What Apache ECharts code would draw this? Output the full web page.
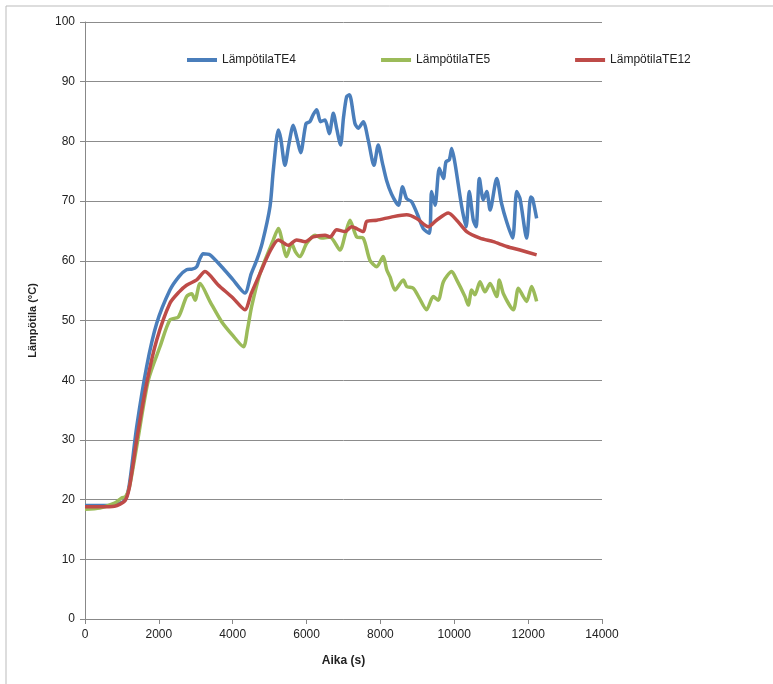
<!DOCTYPE html>
<html>
<head>
<meta charset="utf-8">
<script src="https://cdn.jsdelivr.net/npm/echarts@6/dist/echarts.min.js"></script>
<style>
html,body{margin:0;padding:0;background:#fff;}
#chart{width:773px;height:684px;}
</style>
</head>
<body>
<div id="chart"></div>
<script>
var seriesNames = ['LämpötilaTE4', 'LämpötilaTE5', 'LämpötilaTE12'];
var xTicks = [0, 2000, 4000, 6000, 8000, 10000, 12000, 14000];
var yTicks = [0, 10, 20, 30, 40, 50, 60, 70, 80, 90, 100];

var te4 = [
  [0,19.0],[400,19.0],[800,19.1],[1080,19.9],[1200,22.5],[1400,32.2],[1670,42.3],[1940,49.5],
  [2300,55.1],[2550,57.4],[2750,58.5],[2900,58.6],[3025,59.0],[3100,60.2],[3200,61.2],[3385,61.0],
  [3700,59.0],[4000,56.9],[4330,54.6],[4500,57.8],[4650,60.1],[4800,63.0],[5010,69.1],[5100,75.2],
  [5235,81.9],[5300,80.5],[5415,76.0],[5520,79.5],[5640,82.7],[5740,80.5],[5840,78.1],[5985,83.0],
  [6090,83.3],[6180,84.5],[6275,85.3],[6380,83.3],[6500,83.6],[6615,81.3],[6725,84.7],[6820,82.0],
  [6920,79.4],[7000,84.0],[7085,87.5],[7160,87.8],[7310,83.0],[7400,82.2],[7535,83.3],[7670,80.2],
  [7825,76.0],[7940,79.4],[8050,76.5],[8165,73.5],[8300,71.2],[8485,69.3],[8600,72.4],[8710,70.4],
  [8845,69.9],[9000,67.8],[9160,65.4],[9325,64.6],[9385,71.6],[9480,69.3],[9595,75.5],[9705,73.8],
  [9775,76.6],[9865,76.9],[9930,78.8],[10020,76.3],[10200,69.1],[10320,65.7],[10405,71.6],[10515,66.8],
  [10590,65.7],[10680,73.8],[10785,70.2],[10880,71.6],[10970,68.5],[11150,73.8],[11280,69.6],[11420,66.5],
  [11580,63.8],[11690,71.6],[11780,70.4],[11960,63.8],[12070,70.7],[12120,70.4],[12230,67.1]
];

var te5 = [
  [0,18.4],[400,18.6],[800,19.4],[1000,20.3],[1100,20.5],[1200,22.0],[1400,28.9],[1715,40.0],
  [2030,45.6],[2300,50.1],[2530,50.6],[2750,54.0],[2890,54.5],[2980,53.4],[3115,56.2],[3400,53.0],
  [3700,49.8],[4000,47.5],[4290,45.6],[4400,48.5],[4510,52.3],[4740,57.9],[5100,63.5],[5235,65.4],
  [5460,60.7],[5595,62.9],[5700,61.5],[5820,60.7],[6000,62.9],[6230,64.3],[6410,63.8],[6635,64.0],
  [6905,61.8],[7050,64.5],[7175,66.8],[7355,64.0],[7535,63.8],[7715,60.1],[7900,59.0],[8075,60.7],
  [8170,58.5],[8260,57.3],[8395,55.1],[8620,56.8],[8710,55.7],[8890,55.4],[9050,53.8],[9250,51.8],
  [9430,54.0],[9565,53.4],[9705,56.5],[9930,58.2],[10065,56.8],[10290,54.0],[10380,52.6],[10470,55.1],
  [10560,54.3],[10695,56.5],[10830,54.8],[10970,56.2],[11150,54.0],[11220,56.8],[11330,54.5],[11600,51.8],
  [11735,55.4],[11870,54.0],[11960,53.2],[12095,55.7],[12230,53.2]
];

var te12 = [
  [0,18.8],[400,18.8],[800,18.9],[1080,19.8],[1200,22.0],[1400,30.0],[1670,39.5],[1940,46.7],
  [2300,52.9],[2550,54.8],[2750,55.9],[3025,56.8],[3250,58.2],[3600,56.0],[4000,53.8],[4330,51.8],
  [4500,54.5],[4740,57.9],[5010,61.6],[5235,63.5],[5505,62.6],[5730,63.5],[5960,63.2],[6180,64.0],
  [6500,64.3],[6635,64.0],[6815,65.2],[7040,64.9],[7220,65.7],[7535,64.9],[7630,66.6],[7900,66.8],
  [8350,67.4],[8710,67.7],[8980,67.1],[9300,65.7],[9520,66.8],[9840,68.0],[10065,66.8],[10335,64.9],
  [10695,63.8],[11055,63.2],[11420,62.4],[11780,61.8],[12230,61.0]
];

var colors = ['#4A7EBB', '#9BBB59', '#BE4B48'];

var chart = echarts.init(document.getElementById('chart'), null, {renderer: 'canvas'});

function mkSeries(name, data, color) {
  return {
    name: name,
    type: 'line',
    data: data,
    showSymbol: false,
    symbol: 'none',
    smooth: 0.25,
    lineStyle: {color: color, width: 3.5},
    itemStyle: {color: color},
    z: 3
  };
}

var option = {
  animation: false,
  backgroundColor: '#fff',
  graphic: [
    {type: 'line', shape: {x1: 6, y1: 6, x2: 773, y2: 6}, style: {stroke: '#bbbbbb', lineWidth: 1}},
    {type: 'line', shape: {x1: 6, y1: 6, x2: 6, y2: 684}, style: {stroke: '#bbbbbb', lineWidth: 1}}
  ],
  legend: {
    left: 182,
    top: 49,
    itemWidth: 30,
    itemHeight: 4,
    itemGap: 85,
    icon: 'rect',
    textStyle: {fontFamily: 'Liberation Sans', fontSize: 12, color: '#222'},
    data: seriesNames.map(function (n, i) {
      return {name: n, itemStyle: {color: colors[i]}};
    })
  },
  grid: {left: 85, right: 171, top: 22, bottom: 65, containLabel: false},
  xAxis: {
    type: 'value',
    min: xTicks[0],
    max: xTicks[xTicks.length - 1],
    interval: 2000,
    name: 'Aika (s)',
    nameLocation: 'middle',
    nameGap: 36,
    nameTextStyle: {fontFamily: 'Liberation Sans', fontSize: 12, fontWeight: 'bold', color: '#222'},
    axisLine: {show: true, lineStyle: {color: '#888', width: 1}},
    axisTick: {show: true, length: 5, lineStyle: {color: '#888'}},
    axisLabel: {fontFamily: 'Liberation Sans', fontSize: 12, color: '#222', margin: 10,
      formatter: function (v) { return String(v); }},
    splitLine: {show: false}
  },
  yAxis: {
    type: 'value',
    min: yTicks[0],
    max: yTicks[yTicks.length - 1],
    interval: 10,
    name: 'Lämpötila (°C)',
    nameLocation: 'middle',
    nameGap: 47,
    nameRotate: 90,
    nameTextStyle: {fontFamily: 'Liberation Sans', fontSize: 11, fontWeight: 'bold', color: '#222'},
    axisLine: {show: true, lineStyle: {color: '#888', width: 1}},
    axisTick: {show: true, length: 5, lineStyle: {color: '#888'}},
    axisLabel: {fontFamily: 'Liberation Sans', fontSize: 12, color: '#222', margin: 10,
      formatter: function (v) { return String(v); }},
    splitLine: {show: true, lineStyle: {color: '#8c8c8c', width: 1}}
  },
  series: [
    mkSeries(seriesNames[0], te4, colors[0]),
    mkSeries(seriesNames[1], te5, colors[1]),
    mkSeries(seriesNames[2], te12, colors[2])
  ]
};
chart.setOption(option);
</script>
</body>
</html>
